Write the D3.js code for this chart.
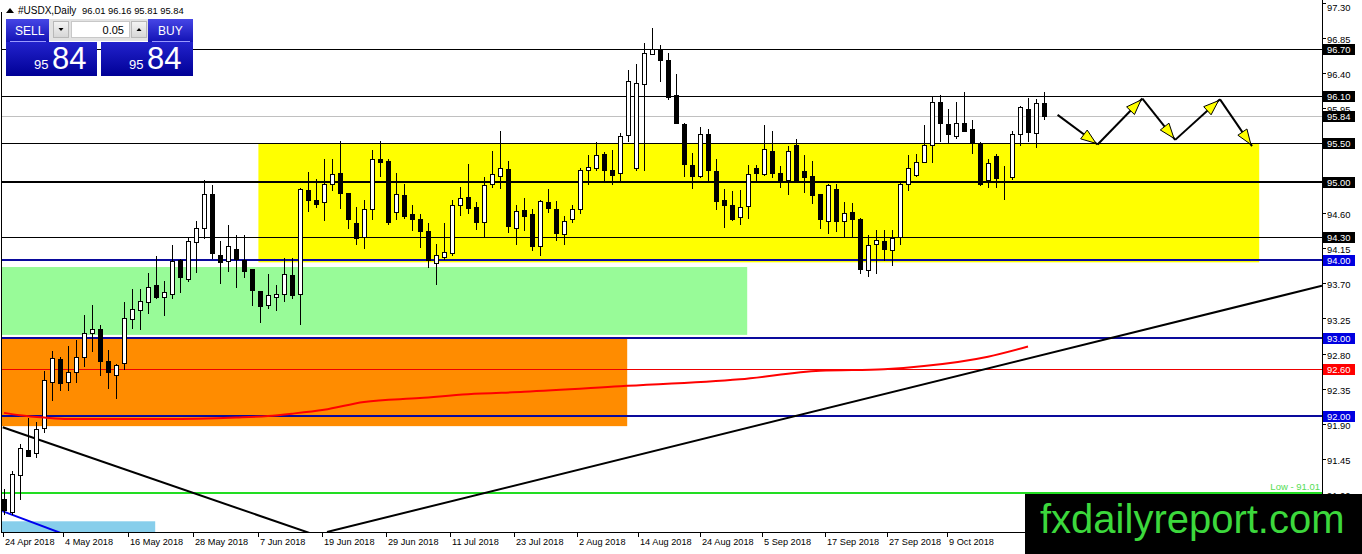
<!DOCTYPE html>
<html><head><meta charset="utf-8">
<script src="https://cdn.jsdelivr.net/npm/d3@7"></script>
<style>
html,body{margin:0;padding:0;background:#fff;overflow:hidden}
svg{display:block;font-family:"Liberation Sans",Arial,sans-serif}
</style></head><body>
<svg id="c" width="1362" height="554"></svg>
<script>
// ---------------- DATA ----------------
const symbol = "#USDX,Daily";
const candleOpen = [
 90.93, 90.77, 91.24, 91.57, 91.53, 91.84, 92.44, 92.73, 92.43, 92.57,
 92.75, 93.07, 93.11, 92.70, 92.53, 92.68, 93.24, 93.36, 93.46, 93.68,
 93.52, 93.57, 94.00, 93.76, 94.23, 94.41, 94.85, 94.07, 93.99, 94.14,
 94.00, 93.88, 93.60, 93.42, 93.52, 93.57, 93.81, 93.56, 94.90, 94.77,
 94.74, 94.97, 95.11, 94.86, 94.48, 94.29, 94.66, 95.30, 95.27, 94.61,
 94.83, 94.59, 94.52, 94.37, 93.96, 94.04, 94.09, 94.70, 94.81, 94.68,
 94.49, 94.97, 95.08, 95.17, 94.41, 94.64, 94.59, 94.18, 94.74, 94.65,
 94.33, 94.52, 94.66, 95.15, 95.18, 95.36, 95.15, 95.11, 95.60, 95.18,
 96.25, 96.64, 96.69, 96.56, 96.11, 95.74, 95.22, 95.08, 95.62, 95.14,
 94.77, 94.71, 94.55, 94.69, 95.18, 95.10, 95.40, 95.12, 95.03, 95.47,
 95.14, 95.08, 94.85, 94.50, 94.91, 94.50, 94.61, 94.53, 93.87, 94.21,
 94.24, 94.13, 94.29, 94.98, 95.09, 95.26, 95.48, 96.02, 95.74, 95.59,
 95.75, 95.68, 95.50, 95.03, 95.33, 95.06, 95.07, 95.62, 95.94, 95.63, 96.01];
const candleHigh = [
 91.07, 91.29, 91.64, 91.97, 91.92, 92.58, 92.83, 92.76, 92.90, 92.97,
 93.29, 93.42, 93.17, 92.85, 92.67, 93.46, 93.63, 93.63, 93.83, 94.05,
 93.73, 94.19, 94.01, 94.29, 94.50, 95.03, 94.96, 94.24, 94.45, 94.32,
 94.32, 93.88, 93.60, 93.82, 93.68, 94.02, 94.02, 94.92, 95.13, 95.04,
 95.30, 95.30, 95.53, 94.86, 94.68, 94.77, 95.41, 95.53, 95.30, 95.12,
 94.97, 94.70, 94.59, 94.48, 94.20, 94.47, 94.77, 94.94, 95.23, 94.74,
 95.06, 95.40, 95.65, 95.27, 94.71, 94.80, 94.66, 94.77, 94.91, 94.75,
 94.56, 94.71, 95.18, 95.35, 95.51, 95.38, 95.41, 95.63, 96.44, 96.51,
 96.78, 96.97, 96.76, 96.65, 96.38, 95.76, 95.37, 95.70, 95.68, 95.29,
 94.91, 94.89, 94.90, 95.22, 95.22, 95.73, 95.65, 95.21, 95.46, 95.55,
 95.35, 95.27, 94.85, 94.98, 94.97, 94.74, 94.73, 94.54, 94.32, 94.38,
 94.38, 94.39, 94.99, 95.35, 95.36, 95.73, 96.09, 96.11, 95.94, 96.02,
 96.16, 95.79, 95.51, 95.30, 95.36, 95.20, 95.65, 95.98, 96.08, 96.07, 96.16];
const candleLow = [
 90.75, 90.74, 90.94, 91.49, 91.48, 91.80, 92.20, 92.33, 92.33, 92.44,
 92.64, 92.83, 92.53, 92.36, 92.23, 92.60, 93.13, 93.11, 93.32, 93.51,
 93.29, 93.51, 93.59, 93.73, 93.85, 94.28, 94.03, 93.71, 93.86, 93.65,
 93.78, 93.42, 93.21, 93.38, 93.36, 93.47, 93.51, 93.18, 94.63, 94.68,
 94.51, 94.90, 94.67, 94.41, 94.20, 94.16, 94.52, 95.08, 94.46, 94.52,
 94.54, 94.39, 94.17, 93.91, 93.69, 94.01, 94.07, 94.58, 94.60, 94.40,
 94.29, 94.94, 94.92, 94.36, 94.20, 94.39, 94.13, 94.06, 94.62, 94.25,
 94.21, 94.49, 94.60, 94.97, 95.16, 95.01, 94.98, 95.01, 95.52, 95.15,
 95.15, 96.64, 96.29, 96.07, 95.75, 95.08, 94.92, 95.07, 95.00, 94.66,
 94.42, 94.51, 94.46, 94.54, 95.00, 95.09, 95.07, 94.93, 94.85, 95.00,
 94.87, 94.73, 94.41, 94.35, 94.37, 94.31, 94.31, 93.83, 93.80, 93.83,
 94.00, 93.94, 94.21, 94.90, 95.08, 95.25, 95.25, 95.53, 95.50, 95.57,
 95.65, 95.37, 94.96, 94.94, 94.94, 94.78, 95.04, 95.48, 95.53, 95.45, 95.81];
const candleClose = [
 90.79, 91.26, 91.59, 91.49, 91.83, 92.46, 92.74, 92.42, 92.56, 92.75,
 93.06, 93.11, 92.71, 92.56, 92.66, 93.25, 93.37, 93.47, 93.65, 93.53,
 93.59, 93.99, 93.78, 94.24, 94.41, 94.85, 94.09, 93.97, 94.18, 94.01,
 93.86, 93.61, 93.41, 93.55, 93.56, 93.82, 93.55, 94.91, 94.77, 94.72,
 94.98, 95.10, 94.86, 94.52, 94.28, 94.65, 95.30, 95.26, 94.49, 94.84,
 94.57, 94.53, 94.37, 94.00, 94.06, 94.10, 94.71, 94.79, 94.67, 94.49,
 94.96, 95.10, 95.18, 94.44, 94.63, 94.57, 94.18, 94.76, 94.67, 94.34,
 94.50, 94.65, 95.16, 95.19, 95.35, 95.16, 95.09, 95.59, 96.30, 96.27,
 96.65, 96.70, 96.56, 96.09, 95.75, 95.23, 95.08, 95.61, 95.15, 94.76,
 94.71, 94.53, 94.68, 95.10, 95.12, 95.42, 95.12, 95.03, 95.40, 95.03,
 95.06, 94.83, 94.53, 94.96, 94.50, 94.60, 94.53, 93.88, 94.19, 94.26,
 94.14, 94.28, 94.97, 95.18, 95.26, 95.47, 96.02, 95.75, 95.62, 95.75,
 95.66, 95.50, 94.98, 95.24, 95.05, 95.06, 95.62, 95.96, 95.64, 96.01, 95.84];

const dateLabels = ["24 Apr 2018","4 May 2018","16 May 2018","28 May 2018","7 Jun 2018",
 "19 Jun 2018","29 Jun 2018","11 Jul 2018","23 Jul 2018","2 Aug 2018","14 Aug 2018",
 "24 Aug 2018","5 Sep 2018","17 Sep 2018","27 Sep 2018","9 Oct 2018"];
const dateTickBars = [-0.1, 7.4, 15.5, 23.6, 31.75, 39.75, 47.75, 55.75, 63.75, 71.6, 79.25, 87, 94.75, 102.6, 110.4, 117.9];

const priceTicks = [97.30, 96.85, 96.40, 95.95, 94.60, 94.15, 93.70, 93.25, 92.80, 92.35, 91.90, 91.45, 91.00];

const levelPrices = [96.70, 96.10, 95.84, 95.50, 95.00, 94.30, 94.00, 93.00, 92.60, 92.00];
const levelKinds  = ["black","black","bid","black","thick","black","blue","blue","red","blue"];
const lowPrice = 91.01;
const lowLabel = "Low - 91.01";

const zoneNames   = ["orange","green","yellow","sky"];
const zoneFromBar = [-1, -1, 31.8, -1];
const zoneToBar   = [77.9, 92.9, 156.9, 18.9];
const zoneTop     = [93.00, 93.91, 95.50, 90.65];
const zoneBottom  = [91.87, 93.04, 93.97, 90.40];

const maBars   = [0, 2, 5, 8, 20, 29, 33, 36, 40, 45, 52, 58, 65, 77, 92, 102, 110, 115, 123, 128];
const maValues = [92.04, 92.01, 91.98, 91.96, 91.96, 91.98, 92.00, 92.03, 92.08, 92.18, 92.23, 92.28, 92.31, 92.38, 92.47, 92.58, 92.60, 92.64, 92.76, 92.89];

const trendNames  = ["down","up","blue"];
const trendBars   = [[-0.16, 38.2], [40.375, 164.75], [-0.2, 7.1]];
const trendPrices = [[91.855, 90.50], [90.513, 93.67], [90.78, 90.50]];

const arrowBars   = [131.7, 136.7, 142.3, 146.4, 152.0, 156.0];
const arrowPrices = [95.86, 95.48, 96.07, 95.54, 96.06, 95.46];

const watermark = "fxdailyreport.com";
const lotSize = "0.05";

// ---------------- DRAW ----------------
const svg = d3.select("#c");
const plotL = 2, plotR = 1322, plotT = 0, plotB = 532;
const x = d3.scaleLinear().domain([0, 130]).range([4, 1044]);
const y = d3.scaleLinear().domain([90.5, 97.3]).range([533, 2.6]);
const crisp = v => Math.round(v) + 0.5;

const defs = svg.append("defs");
defs.append("clipPath").attr("id","plot").append("rect")
  .attr("x", plotL).attr("y", plotT).attr("width", plotR - plotL).attr("height", plotB - plotT);
function grad(id, c1, c2){
  const g = defs.append("linearGradient").attr("id", id).attr("x1",0).attr("y1",0).attr("x2",0).attr("y2",1);
  g.append("stop").attr("offset","0%").attr("stop-color", c1);
  g.append("stop").attr("offset","100%").attr("stop-color", c2);
}
grad("gBtn", "#4646e6", "#1212b4");
grad("gBig", "#2222cc", "#000096");
grad("gGrey", "#f4f4f4", "#d6d6d6");

svg.append("rect").attr("width",1362).attr("height",554).attr("fill","#fff");

const plot = svg.append("g").attr("clip-path","url(#plot)");

// zones
const zoneColor = {orange:"#ff8c00", green:"#98fb98", yellow:"#ffff00", sky:"#87ceeb"};
plot.append("g").selectAll("rect").data(zoneNames).join("rect")
  .attr("x", (d,i) => x(zoneFromBar[i]))
  .attr("width", (d,i) => x(zoneToBar[i]) - x(zoneFromBar[i]))
  .attr("y", (d,i) => y(zoneTop[i]))
  .attr("height", (d,i) => y(zoneBottom[i]) - y(zoneTop[i]))
  .attr("fill", d => zoneColor[d]);

// horizontal levels
const lvlStroke = {black:"#000", thick:"#000", bid:"#c0c0c0", blue:"#0a0a9c", red:"#ee0000"};
const lvlWidth  = {black:1, thick:2, bid:1, blue:2, red:1};
plot.append("g").selectAll("line").data(levelPrices).join("line")
  .attr("x1", plotL).attr("x2", plotR)
  .attr("y1", (d,i) => lvlWidth[levelKinds[i]] === 1 ? crisp(y(d)) : Math.round(y(d)))
  .attr("y2", (d,i) => lvlWidth[levelKinds[i]] === 1 ? crisp(y(d)) : Math.round(y(d)))
  .attr("stroke", (d,i) => lvlStroke[levelKinds[i]])
  .attr("stroke-width", (d,i) => lvlWidth[levelKinds[i]]);

// low line
plot.append("line").attr("x1", plotL).attr("x2", plotR)
  .attr("y1", Math.round(y(lowPrice))).attr("y2", Math.round(y(lowPrice)))
  .attr("stroke", "#22dd22").attr("stroke-width", 2);
plot.append("text").attr("x", 1320).attr("y", Math.round(y(lowPrice)) - 3)
  .attr("text-anchor","end").attr("font-size", 9.5).attr("fill", "#55dd55").text(lowLabel);

// trend lines
const trendColor = {down:"#000", up:"#000", blue:"#0000ee"};
plot.append("g").selectAll("line").data(trendNames).join("line")
  .attr("x1", (d,i) => x(trendBars[i][0])).attr("x2", (d,i) => x(trendBars[i][1]))
  .attr("y1", (d,i) => y(trendPrices[i][0])).attr("y2", (d,i) => y(trendPrices[i][1]))
  .attr("stroke", d => trendColor[d]).attr("stroke-width", 2);

// candles
const idx = d3.range(candleOpen.length);
const cg = plot.append("g");
cg.selectAll("line").data(idx).join("line")
  .attr("x1", i => crisp(x(i))).attr("x2", i => crisp(x(i)))
  .attr("y1", i => Math.round(y(candleHigh[i]))).attr("y2", i => Math.round(y(candleLow[i])) + 1)
  .attr("stroke", "#000").attr("stroke-width", 1);
cg.selectAll("rect").data(idx).join("rect")
  .attr("x", i => Math.round(x(i)) - 1.5)
  .attr("width", 4)
  .attr("y", i => Math.round(y(Math.max(candleOpen[i], candleClose[i]))) + 0.5)
  .attr("height", i => Math.max(0, Math.round(y(Math.min(candleOpen[i], candleClose[i]))) - Math.round(y(Math.max(candleOpen[i], candleClose[i])))))
  .attr("fill", i => candleClose[i] >= candleOpen[i] ? "#fff" : "#000")
  .attr("stroke", "#000").attr("stroke-width", 1);

// moving average
const maLine = d3.line().x(i => x(maBars[i])).y(i => y(maValues[i])).curve(d3.curveMonotoneX);
plot.append("path").attr("d", maLine(d3.range(maBars.length)))
  .attr("fill","none").attr("stroke","#ff0000").attr("stroke-width",2);

// forecast arrows
const ag = plot.append("g");
for (let k = 0; k < arrowBars.length - 1; k++){
  const x1 = x(arrowBars[k]), y1 = y(arrowPrices[k]);
  const x2 = x(arrowBars[k+1]), y2 = y(arrowPrices[k+1]);
  ag.append("line").attr("x1",x1).attr("y1",y1).attr("x2",x2).attr("y2",y2)
    .attr("stroke","#000").attr("stroke-width",2);
}
for (let k = 0; k < arrowBars.length - 1; k++){
  const x1 = x(arrowBars[k]), y1 = y(arrowPrices[k]);
  const x2 = x(arrowBars[k+1]), y2 = y(arrowPrices[k+1]);
  const len = Math.hypot(x2-x1, y2-y1), ux = (x2-x1)/len, uy = (y2-y1)/len;
  const tx = x2 - ux*2, ty = y2 - uy*2;
  const bx = tx - ux*15, by = ty - uy*15;
  const pts = [[tx,ty],[bx - uy*5.5, by + ux*5.5],[bx + uy*5.5, by - ux*5.5]];
  ag.append("polygon").attr("points", pts.map(p => p.join(",")).join(" "))
    .attr("fill","#ffff00").attr("stroke","#000").attr("stroke-width",1);
}

// frame / axes
svg.append("line").attr("x1",1.5).attr("x2",1.5).attr("y1",12).attr("y2",plotB+0.5).attr("stroke","#000");
svg.append("line").attr("x1",plotR+0.5).attr("x2",plotR+0.5).attr("y1",0).attr("y2",plotB+0.5).attr("stroke","#000");
svg.append("line").attr("x1",1).attr("x2",plotR+1).attr("y1",plotB+0.5).attr("y2",plotB+0.5).attr("stroke","#000");

// right price axis
const ra = svg.append("g").attr("font-size", 9.4).attr("fill", "#000");
ra.selectAll("line").data(priceTicks).join("line")
  .attr("x1", plotR+1).attr("x2", plotR+4)
  .attr("y1", d => crisp(y(d))).attr("y2", d => crisp(y(d))).attr("stroke","#000");
ra.selectAll("text").data(priceTicks).join("text")
  .attr("x", 1327).attr("y", d => Math.max(10.5, y(d) + 5)).text(d => d.toFixed(2));

const boxColor = {black:"#000", thick:"#000", bid:"#000", blue:"#0000e0", red:"#ff0000"};
const bx = svg.append("g").attr("font-size", 9.4);
bx.selectAll("rect").data(levelPrices).join("rect")
  .attr("x", plotR+1).attr("width", 32)
  .attr("y", d => Math.round(y(d)) - 5).attr("height", 11)
  .attr("fill", (d,i) => boxColor[levelKinds[i]]);
bx.selectAll("text").data(levelPrices).join("text")
  .attr("x", 1327).attr("y", d => Math.round(y(d)) + 4).attr("fill","#fff")
  .text(d => d.toFixed(2));

// bottom date axis
const da = svg.append("g").attr("font-size", 9.2).attr("fill","#000");
da.selectAll("line").data(dateTickBars).join("line")
  .attr("x1", d => crisp(x(d))).attr("x2", d => crisp(x(d)))
  .attr("y1", plotB).attr("y2", plotB+5).attr("stroke","#000");
da.selectAll("text").data(dateLabels).join("text")
  .attr("x", (d,i) => Math.round(x(dateTickBars[i])) + 2).attr("y", 545).text(d => d);

// watermark
svg.append("rect").attr("x",1025).attr("y",494).attr("width",337).attr("height",60).attr("fill","#000");
svg.append("text").attr("x",1040).attr("y",533).attr("font-size",40).attr("fill","#3cd83c").text(watermark);

// header
const last = candleOpen.length - 1;
const hdr = svg.append("g").attr("font-size", 10).attr("fill","#000");
hdr.append("path").attr("d","M6,13 L10,8 L14,13 Z").attr("fill","#000");
hdr.append("text").attr("x",18).attr("y",14).text(symbol);
hdr.append("text").attr("x",82).attr("y",14).attr("font-size",9.4)
  .text([candleOpen[last], candleHigh[last], candleLow[last], candleClose[last]].map(v => v.toFixed(2)).join(" "));

// trade panel
const bidStr = candleClose[last].toFixed(2).split(".");
const pn = svg.append("g");
pn.append("rect").attr("x",49).attr("y",19).attr("width",100).attr("height",22).attr("fill","#e2e2e2");
pn.append("rect").attr("x",6).attr("y",19).attr("width",43).attr("height",23).attr("fill","url(#gBtn)");
pn.append("rect").attr("x",148).attr("y",19).attr("width",45).attr("height",23).attr("fill","url(#gBtn)");
pn.append("rect").attr("x",53.5).attr("y",21.5).attr("width",15).attr("height",16).attr("fill","url(#gGrey)").attr("stroke","#b8b8b8");
pn.append("rect").attr("x",71.5).attr("y",21.5).attr("width",58).attr("height",16).attr("fill","#fff").attr("stroke","#c8c8c8");
pn.append("rect").attr("x",131.5).attr("y",21.5).attr("width",15).attr("height",16).attr("fill","url(#gGrey)").attr("stroke","#b8b8b8");
pn.append("path").attr("d","M58.5,28 L63.5,28 L61,31 Z").attr("fill","#000");
pn.append("path").attr("d","M136.5,31 L141.5,31 L139,28 Z").attr("fill","#000");
pn.append("text").attr("x",124).attr("y",34).attr("text-anchor","end").attr("font-size",11).attr("fill","#000").text(lotSize);
pn.append("text").attr("x",15).attr("y",35).attr("font-size",12).attr("fill","#fff").text("SELL");
pn.append("text").attr("x",158).attr("y",35).attr("font-size",12).attr("fill","#fff").text("BUY");
pn.append("line").attr("x1",10).attr("x2",46).attr("y1",41.5).attr("y2",41.5).attr("stroke","#9a9aff");
pn.append("line").attr("x1",152).attr("x2",190).attr("y1",41.5).attr("y2",41.5).attr("stroke","#9a9aff");
pn.append("rect").attr("x",6).attr("y",42).attr("width",91).attr("height",34).attr("fill","url(#gBig)");
pn.append("rect").attr("x",101).attr("y",42).attr("width",92).attr("height",34).attr("fill","url(#gBig)");
[[34,52],[129,147]].forEach(p => {
  pn.append("text").attr("x",p[0]).attr("y",69).attr("font-size",13).attr("fill","#fff").text(bidStr[0]);
  pn.append("text").attr("x",p[1]).attr("y",69).attr("font-size",31).attr("fill","#fff").text(bidStr[1]);
});
</script>
</body></html>
